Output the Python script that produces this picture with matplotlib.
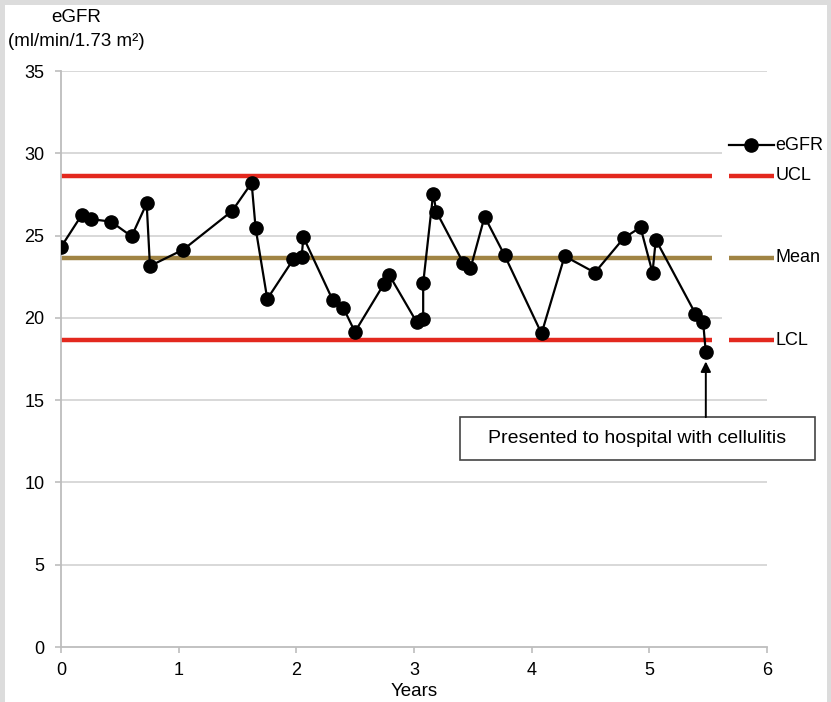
import matplotlib
matplotlib.use("Agg")
import matplotlib.pyplot as plt
from matplotlib.patches import Rectangle

plt.rcParams['font.family'] = ['Liberation Sans', 'DejaVu Sans']

# eGFR measurements over time
years = [0.00, 0.176, 0.252, 0.425, 0.60, 0.728, 0.756, 1.04,
         1.455, 1.62, 1.654, 1.753, 1.974, 2.045, 2.06, 2.308, 2.40, 2.498,
         2.744, 2.79, 3.022, 3.078, 3.078, 3.163, 3.19, 3.418, 3.48, 3.60, 3.77,
         4.084, 4.28, 4.537, 4.783, 4.925, 5.027, 5.055, 5.392, 5.457, 5.48]
egfr = [24.3, 26.25, 26.0, 25.85, 24.95, 26.95, 23.15, 24.15,
        26.5, 28.2, 25.45, 21.15, 23.55, 23.7, 24.9, 21.1, 20.6, 19.15,
        22.05, 22.6, 19.75, 19.95, 22.1, 27.55, 26.45, 23.35, 23.0, 26.15, 23.8,
        19.05, 23.75, 22.75, 24.85, 25.5, 22.75, 24.75, 20.25, 19.75, 17.9]

# Control limits
mean_val = 23.65
ucl_val = 28.65
lcl_val = 18.65
limit_span = [0.0, 5.53]

y_ticks = [0, 5, 10, 15, 20, 25, 30, 35]
x_ticks = [0, 1, 2, 3, 4, 5, 6]

RED = '#e3281e'
GOLD = '#a08444'
GRID = '#d6d6d6'
AXIS = '#bdbdbd'
FS = 13.5

W, H = 831, 702
fig = plt.figure(figsize=(W / 100, H / 100), dpi=100)
fig.patch.set_facecolor('#dcdcdc')

# white panel inside the grey frame
panel = Rectangle((5 / W, 0), 822 / W, 697 / H, transform=fig.transFigure,
                  facecolor='white', edgecolor='none', zorder=-10)
fig.patches.append(panel)

ax = fig.add_axes([61 / W, 55 / H, 706 / W, 576 / H])
ax.set_zorder(1)
ax.set_facecolor('none')
ax.set_xlim(0, 6)
ax.set_ylim(0, 35)

for yv in y_ticks[1:]:
    ax.axhline(yv, color=GRID, lw=1.3, zorder=1)

ax.plot(limit_span, [ucl_val, ucl_val], color=RED, lw=3.2, solid_capstyle='butt', zorder=2)
ax.plot(limit_span, [mean_val, mean_val], color=GOLD, lw=3.2, solid_capstyle='butt', zorder=2)
ax.plot(limit_span, [lcl_val, lcl_val], color=RED, lw=3.2, solid_capstyle='butt', zorder=2)

ax.plot(years, egfr, color='black', lw=1.6, marker='o', ms=9.5, zorder=4)

for s in ['top', 'right']:
    ax.spines[s].set_visible(False)
for s in ['left', 'bottom']:
    ax.spines[s].set_color(AXIS)
    ax.spines[s].set_linewidth(1.3)

ax.set_xticks(x_ticks)
ax.set_yticks(y_ticks)
ax.tick_params(axis='both', colors=AXIS, labelcolor='black', labelsize=13,
               length=4, width=1.2, direction='out')
ax.tick_params(axis='y', pad=8)
ax.tick_params(axis='x', pad=7)
ax.set_xlabel('Years', fontsize=FS, labelpad=3)

# legend panel on the right, covering the grid lines behind it
ax.add_patch(Rectangle((5.62, 16.2), 0.84, 16.5, facecolor='white', edgecolor='none',
                       zorder=3, clip_on=False))
lx0, lx1, ltx = 5.675, 6.06, 6.07
ax.plot([lx0, lx1], [30.5, 30.5], color='black', lw=1.6, clip_on=False, zorder=5)
ax.plot([(lx0 + lx1) / 2], [30.5], 'o', color='black', ms=9.5, clip_on=False, zorder=5)
ax.text(ltx, 30.5, 'eGFR', fontsize=13, va='center', ha='left', zorder=6)
for yv, col, name in [(ucl_val, RED, 'UCL'), (mean_val, GOLD, 'Mean'), (lcl_val, RED, 'LCL')]:
    ax.plot([lx0, lx1], [yv, yv], color=col, lw=3.2, solid_capstyle='butt',
            clip_on=False, zorder=5)
    ax.text(ltx, yv, name, fontsize=13, va='center', ha='left', zorder=6)

# annotation box and arrow pointing at the final reading
box_x0, box_x1 = 3.39, 6.405
box_y0, box_y1 = 11.36, 13.97
ax.add_patch(Rectangle((box_x0, box_y0), box_x1 - box_x0, box_y1 - box_y0,
                       facecolor='white', edgecolor='#444444', lw=1.2,
                       zorder=6, clip_on=False))
ax.text((box_x0 + box_x1) / 2, (box_y0 + box_y1) / 2,
        'Presented to hospital with cellulitis', fontsize=14,
        ha='center', va='center', zorder=7)
ax.annotate('', xy=(years[-1], egfr[-1] - 0.55), xytext=(years[-1], box_y1),
            zorder=6,
            arrowprops=dict(arrowstyle='-|>', color='black', lw=1.4,
                            mutation_scale=15, shrinkA=0, shrinkB=0))

fig.text(76 / W, 1 - 18 / H, 'eGFR', fontsize=FS, ha='center', va='center')
fig.text(76 / W, 1 - 41 / H, '(ml/min/1.73 m²)', fontsize=FS, ha='center', va='center')

fig.savefig('out.png', dpi=100, facecolor=fig.get_facecolor())
